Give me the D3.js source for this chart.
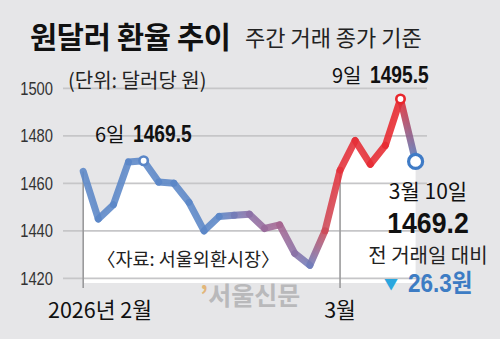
<!DOCTYPE html>
<html>
<head>
<meta charset="utf-8">
<script src="https://cdn.jsdelivr.net/npm/d3@7"></script>
<style>
  html, body { margin: 0; padding: 0; background: #e6e6e8; }
  svg { display: block; }
  text { font-family: "Noto Sans CJK KR", "Noto Sans", sans-serif; }
  text.num { font-family: "Liberation Sans", "Noto Sans CJK KR", sans-serif; }
</style>
</head>
<body>
<script>
// Daily closing KRW/USD rate (day session), Feb 2 – Mar 10, 2026
const dates = [
  "2/2", "2/3", "2/4", "2/5", "2/6",
  "2/9", "2/10", "2/11", "2/12", "2/13",
  "2/19", "2/20",
  "2/23", "2/24", "2/25", "2/26", "2/27",
  "3/3", "3/4", "3/5", "3/6",
  "3/9", "3/10"
];
const rates = [
  1465.0, 1445.0, 1451.0, 1469.0, 1469.5,
  1460.5, 1460.0, 1452.0, 1440.0, 1446.0,
  1446.5, 1447.0,
  1441.0, 1442.5, 1430.5, 1425.5, 1440.0,
  1465.5, 1478.0, 1468.0, 1476.0,
  1495.5, 1469.2
];
const yTicks = [1420, 1440, 1460, 1480, 1500];
const monthMarks = [
  { label: "2026년 2월", index: 0 },
  { label: "3월", index: 17 }
];
const callouts = { low: 4, high: 21, last: 22 };

const W = 500, H = 339;
const svg = d3.select("body").append("svg").attr("width", W).attr("height", H);

const x = d3.scaleLinear().domain([0, dates.length - 1]).range([83.2, 415.6]);
const y = d3.scaleLinear().domain([1420, 1500]).range([278.3, 88.3]);
const areaFloor = y(1418);

// condensed figures: squeeze a text horizontally around its anchor
function squeezed(px, py, sx) {
  return svg.append("text").attr("class", "num")
    .attr("transform", `translate(${px},${py}) scale(${sx},1)`);
}

const blue = "#5a86c7", red = "#e8262c";
// stroke colour along the series, by point index
const tone = d3.scaleLinear()
  .domain([0, 9, 11, 13, 15, 16, 17, 21, 22])
  .range([blue, blue, "#8a6fa6", "#a5648f", "#6f7cbb", "#cc4a58", "#e4303a", red, "#4d80c6"])
  .interpolate(d3.interpolateRgb);

const pts = rates.map((v, i) => ({ i, v, date: dates[i] }));

// white area under the line
svg.append("path")
  .datum(pts)
  .attr("fill", "#ffffff")
  .attr("d", d3.area().x(d => x(d.i)).y0(areaFloor).y1(d => y(d.v)));

// horizontal grid + y labels
const grid = svg.append("g");
grid.selectAll("line").data(yTicks).join("line")
  .attr("x1", 63).attr("x2", 427)
  .attr("y1", d => y(d)).attr("y2", d => y(d))
  .attr("stroke", "#c6c6c8").attr("stroke-width", 1.7);
yTicks.forEach(t => {
  squeezed(53, y(t) + 6.5, 0.82)
    .attr("text-anchor", "end")
    .attr("font-size", 18).attr("fill", "#333")
    .text(t);
});

// month dividers
svg.append("g").selectAll("line").data(monthMarks).join("line")
  .attr("x1", d => x(d.index)).attr("x2", d => x(d.index))
  .attr("y1", d => y(rates[d.index])).attr("y2", 288)
  .attr("stroke", "#9a9a9c").attr("stroke-width", 1.6);

// line drawn segment by segment, each with its own gradient
const defs = svg.append("defs");
const segs = d3.pairs(pts);
segs.forEach(([a, b], k) => {
  const g = defs.append("linearGradient")
    .attr("id", "seg" + k)
    .attr("gradientUnits", "userSpaceOnUse")
    .attr("x1", x(a.i)).attr("y1", y(a.v))
    .attr("x2", x(b.i)).attr("y2", y(b.v));
  g.append("stop").attr("offset", "0%").attr("stop-color", tone(a.i));
  g.append("stop").attr("offset", "100%").attr("stop-color", tone(b.i));
});
svg.append("g").selectAll("line").data(segs).join("line")
  .attr("x1", d => x(d[0].i)).attr("y1", d => y(d[0].v))
  .attr("x2", d => x(d[1].i)).attr("y2", d => y(d[1].v))
  .attr("stroke", (d, k) => `url(#seg${k})`)
  .attr("stroke-width", 7)
  .attr("stroke-linecap", "round")
  .attr("stroke-opacity", 0.88);

// highlighted points
const marks = [
  { i: callouts.low, r: 4.2, sw: 2.6, c: blue },
  { i: callouts.high, r: 4.2, sw: 2.6, c: red },
  { i: callouts.last, r: 7, sw: 3.2, c: "#3f7bc6" }
];
svg.append("g").selectAll("circle").data(marks).join("circle")
  .attr("cx", d => x(d.i)).attr("cy", d => y(rates[d.i]))
  .attr("r", d => d.r).attr("fill", "#fff")
  .attr("stroke", d => d.c).attr("stroke-width", d => d.sw);

// titles
svg.append("text").attr("x", 30).attr("y", 48)
  .attr("font-size", 29.5).attr("font-weight", 700).attr("fill", "#111")
  .attr("letter-spacing", -0.3)
  .text("원달러 환율 추이");
svg.append("text").attr("x", 245).attr("y", 46)
  .attr("font-size", 22).attr("fill", "#222")
  .text("주간 거래 종가 기준");
svg.append("text").attr("x", 68).attr("y", 88)
  .attr("font-size", 20).attr("fill", "#222")
  .text("(단위: 달러당 원)");

// value callouts: day label plus condensed bold value
function dayLabel(xDay, xVal, yPos, idx) {
  svg.append("text").attr("x", xDay).attr("y", yPos)
    .attr("font-size", 20).attr("fill", "#111")
    .text(dates[idx].split("/")[1] + "일");
  squeezed(xVal, yPos, 0.8)
    .attr("font-size", 24).attr("font-weight", 700).attr("fill", "#111")
    .text(rates[idx].toFixed(1));
}
dayLabel(95, 133, 142, callouts.low);
dayLabel(332, 370, 83, callouts.high);

const last = rates[callouts.last];
const diff = rates[callouts.high] - last;
const [lm, ld] = dates[callouts.last].split("/");
svg.append("text").attr("x", 428).attr("y", 199).attr("text-anchor", "middle")
  .attr("font-size", 21).attr("fill", "#111").text(`${lm}월 ${ld}일`);
squeezed(428, 233, 0.92).attr("text-anchor", "middle")
  .attr("font-size", 29).attr("font-weight", 700).attr("fill", "#111")
  .text(last.toFixed(1));
svg.append("text").attr("x", 428).attr("y", 263).attr("text-anchor", "middle")
  .attr("font-size", 20).attr("fill", "#222").text("전 거래일 대비");
svg.append("text").attr("x", 391).attr("y", 289).attr("text-anchor", "middle")
  .attr("font-size", 14).attr("fill", "#2aa6de").text("▼");
squeezed(408, 292, 0.9)
  .attr("font-size", 25).attr("font-weight", 700).attr("fill", "#3d7cc4")
  .text(diff.toFixed(1) + "원");

// source note
svg.append("text").attr("x", 97).attr("y", 266)
  .attr("font-size", 18.5).attr("fill", "#222")
  .text("〈자료: 서울외환시장〉");

// month labels
svg.append("text").attr("x", 48).attr("y", 318)
  .attr("font-size", 21.5).attr("fill", "#111").text(monthMarks[0].label);
svg.append("text").attr("x", x(monthMarks[1].index)).attr("y", 318).attr("text-anchor", "middle")
  .attr("font-size", 21.5).attr("fill", "#111").text(monthMarks[1].label);

// masthead
const mh = svg.append("text").attr("x", 200).attr("y", 305)
  .attr("font-size", 25).attr("font-weight", 700);
mh.append("tspan").attr("fill", "#e2b67a").text("’");
mh.append("tspan").attr("fill", "#b9b9bb").text("서울신문");
</script>
</body>
</html>
